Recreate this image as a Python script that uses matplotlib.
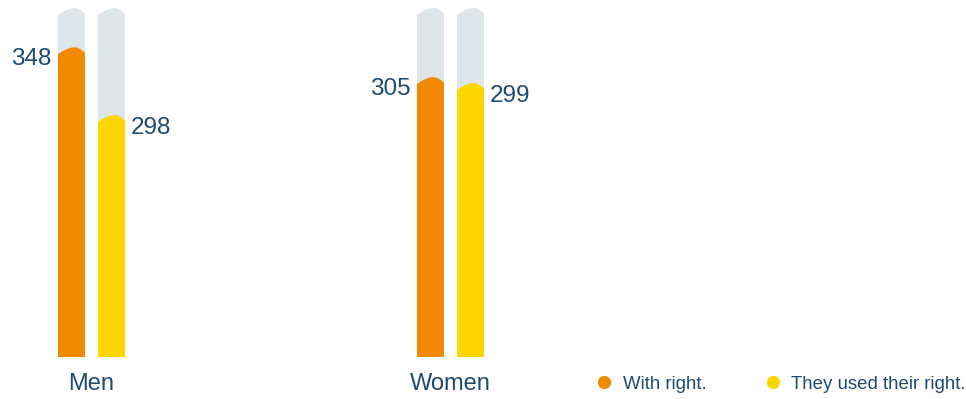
import numpy as np
import matplotlib.pyplot as plt
from matplotlib.patches import Polygon
from matplotlib.lines import Line2D

plt.rcParams['font.family'] = ['Liberation Sans', 'DejaVu Sans']

# data
groups = ['Men', 'Women']
with_right = [348, 305]
used_right = [298, 299]
series_names = ['With right.', 'They used their right.']

# colours / layout
c_orange = '#F18A00'
c_yellow = '#FFD500'
c_track = '#DFE6EA'
c_text = '#1E4A72'
ylims = {'Men': (119, 377), 'Women': (25, 374)}
ax_left_px = {'Men': 31.5, 'Women': 390.5}
W, H = 966, 399
bar_w = 0.675


def capped_bar(ax, xc, top, bottom, color, cap):
    x0 = xc - bar_w / 2
    w = bar_w
    # rounded, slightly off-centre top
    fx = np.array([0.0, 0.1, 0.25, 0.4, 0.52, 0.62, 0.74, 0.86, 1.0])
    fy = np.array([1.0, 0.72, 0.4, 0.15, 0.03, 0.0, 0.08, 0.35, 0.8])
    pts = [(x0, bottom), (x0 + w, bottom)]
    pts += [(x0 + w * a, top - cap * b) for a, b in zip(fx[::-1], fy[::-1])]
    ax.add_patch(Polygon(pts, closed=True, facecolor=color, edgecolor='none'))


fig = plt.figure(figsize=(W / 100, H / 100), dpi=100)
fig.patch.set_facecolor('white')

bot_px, top_px = 357.3, 8.0
for i, g in enumerate(groups):
    lo, hi = ylims[g]
    ax = fig.add_axes([ax_left_px[g] / W, (H - bot_px) / H, 120 / W, (bot_px - top_px) / H])
    ax.set_xlim(-1, 2)
    ax.set_ylim(lo, hi)
    ax.axis('off')
    cap = 7.0 / (bot_px - top_px) * (hi - lo)
    for x, v, col in [(0, with_right[i], c_orange), (1, used_right[i], c_yellow)]:
        capped_bar(ax, x, hi, lo, c_track, cap)
        capped_bar(ax, x, v, lo, col, cap)
    ax.annotate(str(with_right[i]), (0 - bar_w / 2, with_right[i]), xytext=(-4.5, -8.7),
                textcoords='offset points', ha='right', va='center',
                fontsize=17.5, color=c_text, annotation_clip=False)
    ax.annotate(str(used_right[i]), (1 + bar_w / 2, used_right[i]), xytext=(4.5, -9.5),
                textcoords='offset points', ha='left', va='center',
                fontsize=17.5, color=c_text, annotation_clip=False)
    ax.text(0.5, -0.094, g, transform=ax.get_xaxis_transform(), ha='center',
            va='baseline', fontsize=17, color=c_text)

handles = [Line2D([], [], ls='none', marker='o', markersize=8.5, color=c)
           for c in [c_orange, c_yellow]]
leg = fig.legend(handles, series_names, loc='center left', ncol=2,
                 bbox_to_anchor=(597 / W, 1 - 384 / H), frameon=False,
                 fontsize=13.4, handlelength=0.8, handletextpad=0.6,
                 columnspacing=3.15, borderaxespad=0, borderpad=0)
for t in leg.get_texts():
    t.set_color(c_text)

fig.savefig('out.png', dpi=100, facecolor='white')
